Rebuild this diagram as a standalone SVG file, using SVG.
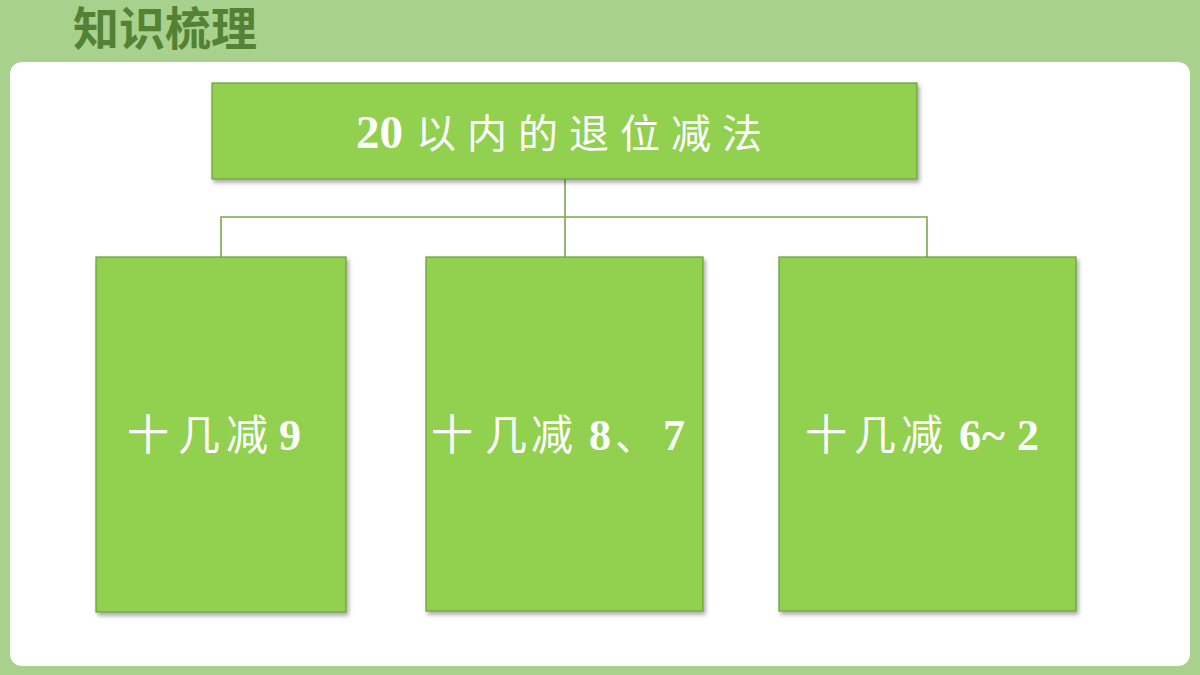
<svg xmlns="http://www.w3.org/2000/svg" width="1200" height="675" viewBox="0 0 1200 675">
<style>
.title{font-family:"Noto Sans CJK SC","Liberation Sans",sans-serif;font-weight:bold;font-size:46px;fill:#548235}
.box{fill:#92d050;stroke:#6b9e37;stroke-width:1.2}
.lbl{font-family:"Noto Sans CJK SC","Liberation Serif",serif;font-size:40px;fill:#ffffff}
.c{font-size:42px}
.d{font-family:"Liberation Serif",serif;font-weight:bold;font-size:44px}
.conn{fill:none;stroke:#7aa84a;stroke-width:1.6}
</style>
<defs>
<filter id="sh" x="-10%" y="-10%" width="120%" height="120%">
<feDropShadow dx="2" dy="3" stdDeviation="2" flood-color="#000" flood-opacity="0.35"/>
</filter>
</defs>
<rect x="0" y="0" width="1200" height="675" fill="#a9d18e"/>
<rect x="10" y="62" width="1180" height="604" rx="12" fill="#ffffff"/>
<text class="title" x="73" y="45">知识梳理</text>
<g id="connectors">
<path class="conn" d="M565 179V217M221 257V217H927V257M565 217V257"/>
</g>
<g id="n0">
<rect class="box" x="212" y="83" width="705" height="96" filter="url(#sh)"/>
<text class="lbl" y="148"><tspan class="d" x="356" style="font-size:47px">20</tspan><tspan x="416 467 518 569 620 671 722">以内的退位减法</tspan></text>
</g>
<g id="n1">
<rect class="box" x="96" y="257" width="250" height="355" filter="url(#sh)"/>
<text class="lbl" y="450"><tspan class="c" x="127 178 226">十几减</tspan><tspan class="d" x="279">9</tspan></text>
</g>
<g id="n2">
<rect class="box" x="426" y="257" width="277" height="354" filter="url(#sh)"/>
<text class="lbl" y="450"><tspan class="c" x="431 485 531">十几减</tspan><tspan class="d" x="589">8</tspan><tspan x="615">、</tspan><tspan class="d" x="663">7</tspan></text>
</g>
<g id="n3">
<rect class="box" x="779" y="257" width="297" height="354" filter="url(#sh)"/>
<text class="lbl" y="450"><tspan class="c" x="805 854 901">十几减</tspan><tspan class="d" x="959 982 1017">6~2</tspan></text>
</g>
</svg>
